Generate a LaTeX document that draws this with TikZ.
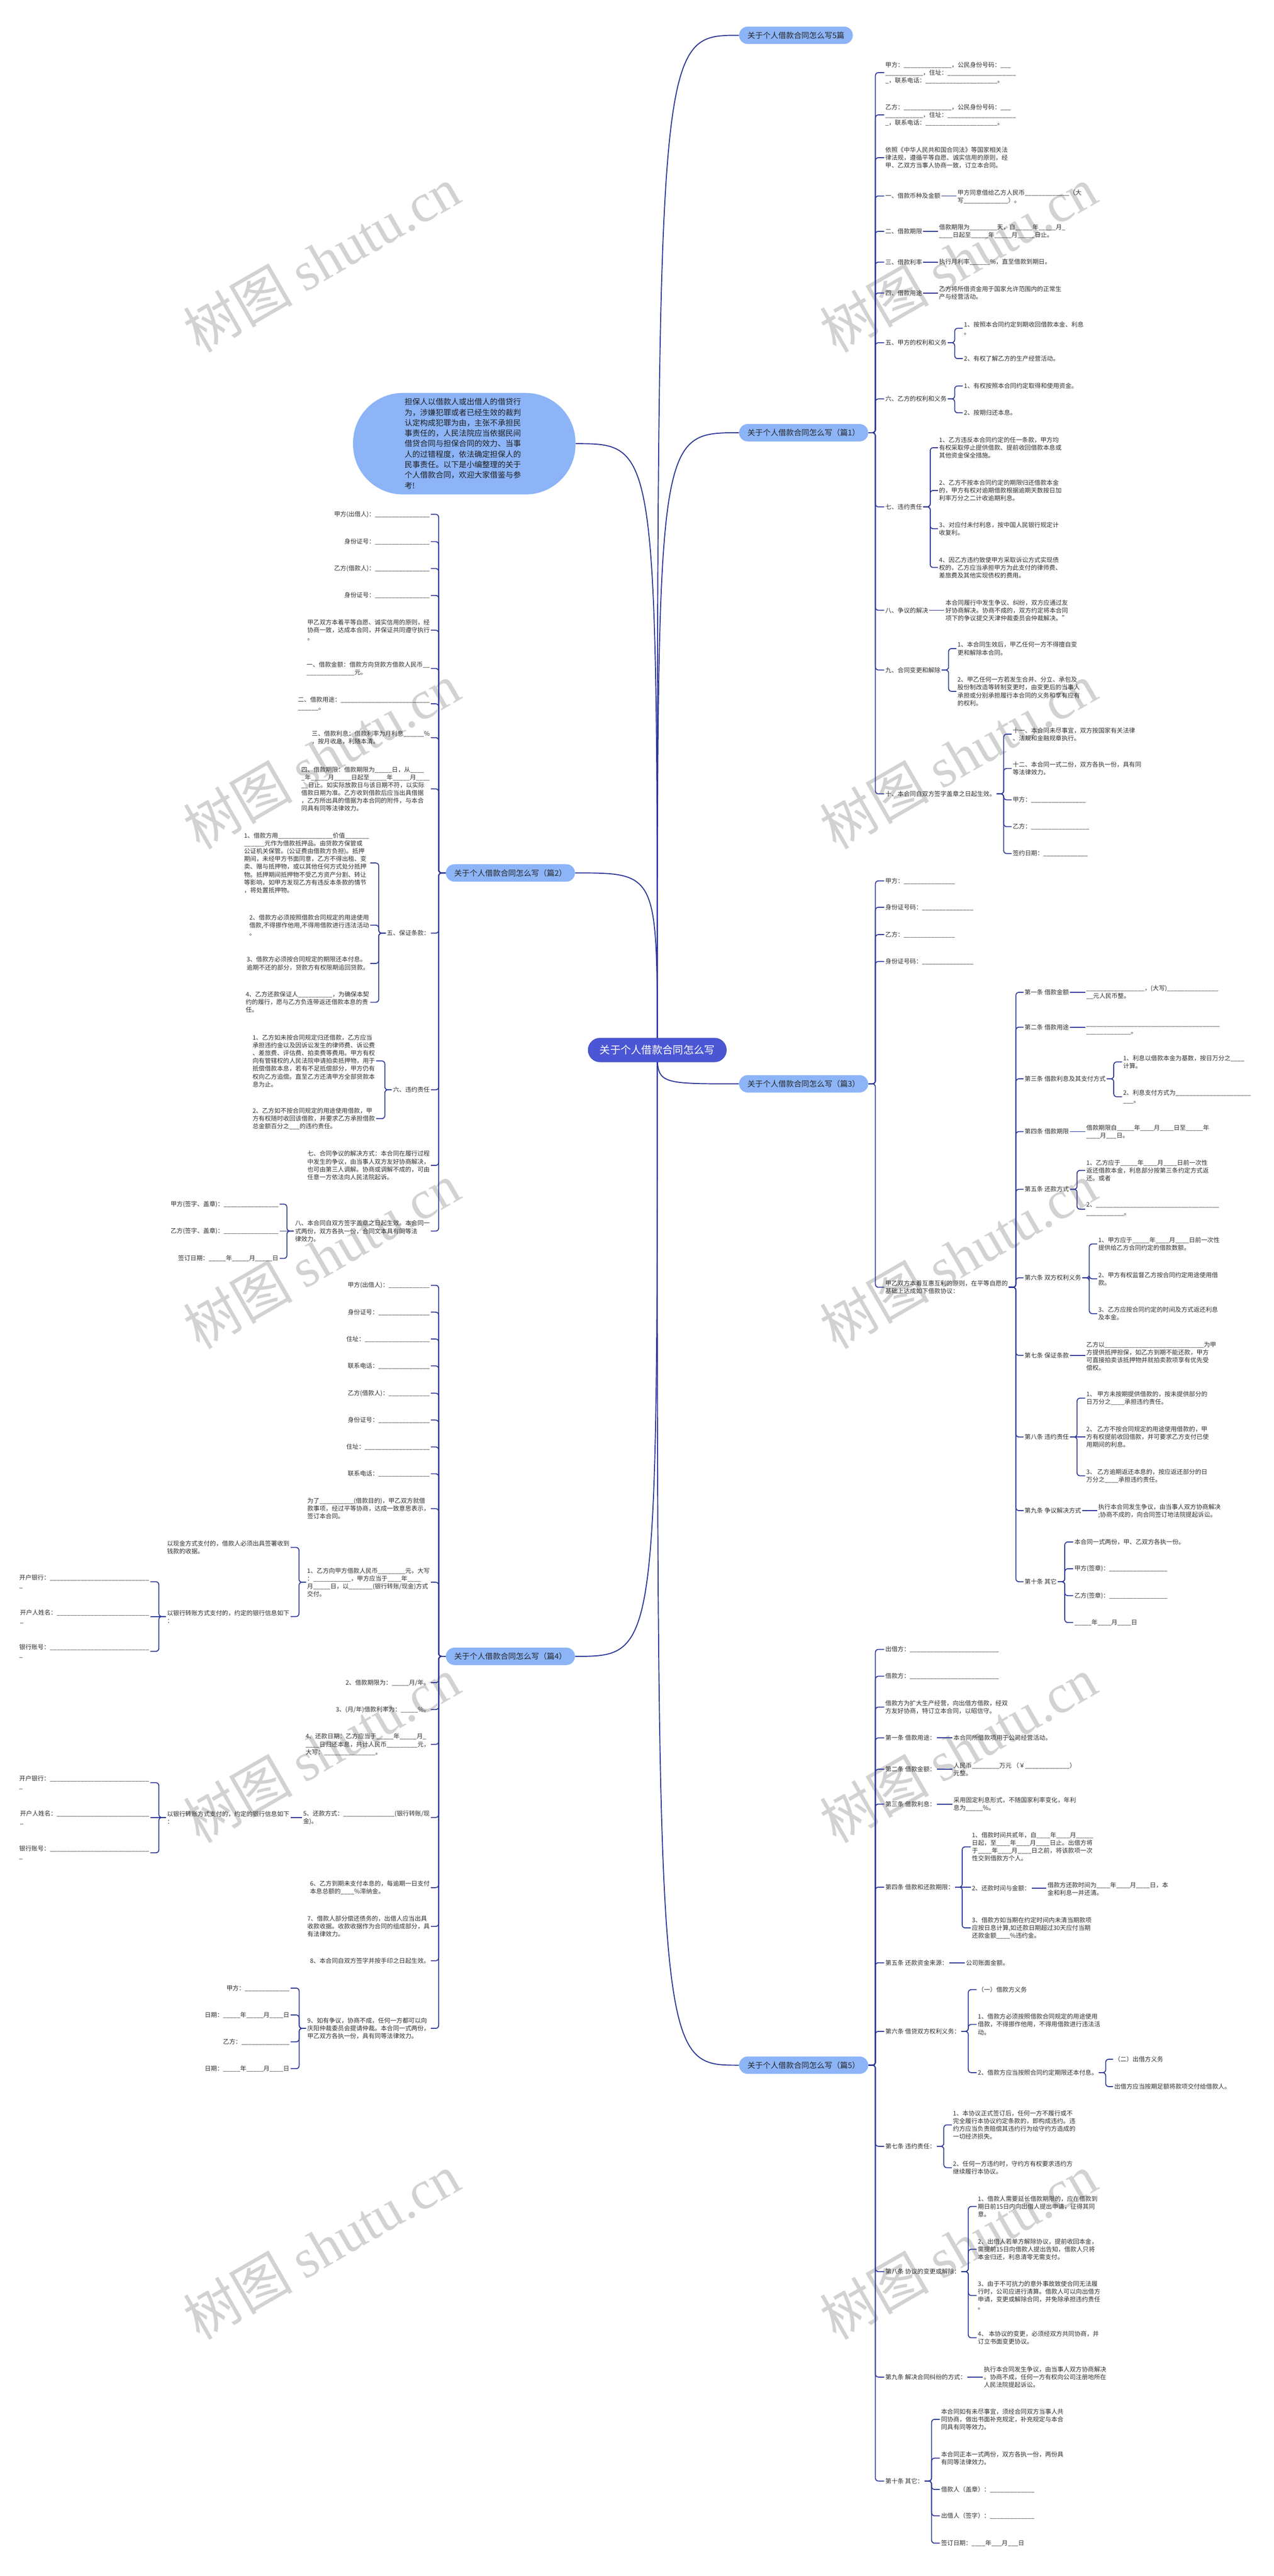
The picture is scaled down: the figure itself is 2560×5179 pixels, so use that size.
\documentclass[tikz,border=0pt]{standalone}
\usepackage{fontspec}
\setmainfont{Noto Sans CJK SC}
\newfontfamily\wmserif{Liberation Serif}
\usetikzlibrary{backgrounds}

\definecolor{linkblue}{RGB}{43,53,150}
\definecolor{rootblue}{RGB}{74,86,212}
\definecolor{branchblue}{RGB}{140,180,247}

\ExplSyntaxOn
\cs_new:Npn \ublank #1 { \prg_replicate:nn {#1} { \textunderscore } }
\ExplSyntaxOff

\tikzset{every picture/.style={line width=0.75pt}}
\tikzset{
  rtxt/.style={anchor=west, inner sep=2pt, align=left, text=black!82, font=\fontsize{12.3}{15.6}\selectfont},
  ltxt/.style={rtxt, anchor=east},
  branch/.style={fill=branchblue, rounded corners=17.5pt, inner xsep=17pt, inner ysep=0pt, minimum height=35pt, text=black!85, font=\fontsize{15.5}{18}\selectfont},
  rootnode/.style={fill=rootblue, draw=rootblue!85!black, rounded corners=24pt, minimum width=278pt, minimum height=48pt, text=white, font=\fontsize{21}{24}\selectfont},
  intro/.style={fill=branchblue, rounded corners=100pt, minimum width=447pt, minimum height=204pt, text width=240pt, inner xsep=0pt, align=left, text=black!88, font=\fontsize{15.6}{21}\selectfont},
  link/.style={draw=linkblue, line width=1.8pt, rounded corners=6pt},
  mainlink/.style={draw=linkblue, line width=2pt},
  wmark/.style={rotate=30, text=black!22, text opacity=0.8, font=\fontsize{110}{110}\selectfont}
}

% connectors: right / left bracket, straight, root curves
\newcommand\rlink[2]{\draw[link] (#1.east) -- ++(14,0) |- (#2.west);}
\newcommand\llink[2]{\draw[link] (#1.west) -- ++(-14,0) |- (#2.east);}
\newcommand\rslink[2]{\draw[link] (#1.east) -- (#1.east -| #2.west);}
\newcommand\lslink[2]{\draw[link] (#1.west) -- (#1.west -| #2.east);}
\newcommand\rmain[1]{\draw[mainlink] (root.center) .. controls (root.center |- #1.west) .. (#1.west);}
\newcommand\lmain[1]{\draw[mainlink] (root.center) .. controls (root.center |- #1.east) .. (#1.east);}

\begin{document}
\begin{tikzpicture}[x=1pt,y=1pt,yscale=-1]
\useasboundingbox (0,0) rectangle (2560,5179);

% Root and branches
\node[rootnode] (root) at (1321,2111) {关于个人借款合同怎么写};
\node[branch, anchor=west] (s0) at (1485,71) {关于个人借款合同怎么写5篇};
\node[branch, anchor=west] (s1) at (1485,870) {关于个人借款合同怎么写（篇1）};
\node[branch, anchor=west] (s3) at (1485,2179) {关于个人借款合同怎么写（篇3）};
\node[branch, anchor=west] (s5) at (1485,4152) {关于个人借款合同怎么写（篇5）};
\node[branch, anchor=east] (s2) at (1156,1755) {关于个人借款合同怎么写（篇2）};
\node[branch, anchor=east] (s4) at (1156,3330) {关于个人借款合同怎么写（篇4）};
\node[intro, anchor=east] (intro) at (1157,892) {担保人以借款人或出借人的借贷行\\为，涉嫌犯罪或者已经生效的裁判\\认定构成犯罪为由，主张不承担民\\事责任的，人民法院应当依据民间\\借贷合同与担保合同的效力、当事\\人的过错程度，依法确定担保人的\\民事责任。以下是小编整理的关于\\个人借款合同，欢迎大家借鉴与参\\考!};

% Pian 1
\node[rtxt] (a1) at (1777,146) {甲方：\ublank{14}，公民身份号码：\ublank{3}\\\ublank{11}，住址：\ublank{20}\\\ublank{1}，联系电话：\ublank{21}。};
\node[rtxt] (a2) at (1777,231) {乙方：\ublank{14}，公民身份号码：\ublank{3}\\\ublank{11}，住址：\ublank{20}\\\ublank{1}，联系电话：\ublank{21}。};
\node[rtxt] (a3) at (1777,317) {依照《中华人民共和国合同法》等国家相关法\\律法规，遵循平等自愿、诚实信用的原则，经\\甲、乙双方当事人协商一致，订立本合同。};
\node[rtxt] (a4) at (1777,394) {一、借款币种及金额};
\node[rtxt] (a4a) at (1922,395) {甲方同意借给乙方人民币\ublank{13}（大\\写\ublank{13}）。};
\node[rtxt] (a5) at (1777,465) {二、借款期限};
\node[rtxt] (a5a) at (1885,465) {借款期限为\ublank{8}天，自\ublank{5}年\ublank{5}月\ublank{1}\\\ublank{4}日起至\ublank{5}年\ublank{5}月\ublank{5}日止。};
\node[rtxt] (a6) at (1777,527) {三、借款利率};
\node[rtxt] (a6a) at (1885,527) {执行月利率\ublank{6}\%，直至借款到期日。};
\node[rtxt] (a7) at (1777,589) {四、借款用途};
\node[rtxt] (a7a) at (1885,589) {乙方将所借资金用于国家允许范围内的正常生\\产与经营活动。};
\node[rtxt] (a8) at (1777,689) {五、甲方的权利和义务};
\node[rtxt] (a8a) at (1935,660) {1、按照本合同约定到期收回借款本金、利息\\。};
\node[rtxt] (a8b) at (1935,721) {2、有权了解乙方的生产经营活动。};
\node[rtxt] (a9) at (1777,802) {六、乙方的权利和义务};
\node[rtxt] (a9a) at (1935,776) {1、有权按照本合同约定取得和使用资金。};
\node[rtxt] (a9b) at (1935,830) {2、按期归还本息。};
\node[rtxt] (a10) at (1777,1019) {七、违约责任};
\node[rtxt] (a10a) at (1885,900) {1、乙方违反本合同约定的任一条款，甲方均\\有权采取停止提供借款、提前收回借款本息或\\其他资金保全措施。};
\node[rtxt] (a10b) at (1885,986) {2、乙方不按本合同约定的期限归还借款本金\\的，甲方有权对逾期借款根据逾期天数按日加\\利率万分之二计收逾期利息。};
\node[rtxt] (a10c) at (1885,1063) {3、对应付未付利息，按中国人民银行规定计\\收复利。};
\node[rtxt] (a10d) at (1885,1141) {4、因乙方违约致使甲方采取诉讼方式实现债\\权的，乙方应当承担甲方为此支付的律师费、\\差旅费及其他实现债权的费用。};
\node[rtxt] (a11) at (1777,1227) {八、争议的解决};
\node[rtxt] (a11a) at (1898,1227) {本合同履行中发生争议、纠纷，双方应通过友\\好协商解决。协商不成的，双方约定将本合同\\项下的争议提交天津仲裁委员会仲裁解决。”};
\node[rtxt] (a12) at (1777,1347) {九、合同变更和解除};
\node[rtxt] (a12a) at (1922,1304) {1、本合同生效后，甲乙任何一方不得擅自变\\更和解除本合同。};
\node[rtxt] (a12b) at (1922,1390) {2、甲乙任何一方若发生合并、分立、承包及\\股份制改造等转制变更时，由变更后的当事人\\承担或分别承担履行本合同的义务和享有应有\\的权利。};
\node[rtxt] (a13) at (1777,1596) {十、本合同自双方签字盖章之日起生效。};
\node[rtxt] (a13a) at (2033,1476) {十一、本合同未尽事宜，双方按国家有关法律\\、法规和金融规章执行。};
\node[rtxt] (a13b) at (2033,1545) {十二、本合同一式二份，双方各执一份，具有同\\等法律效力。};
\node[rtxt] (a13c) at (2033,1608) {甲方：\ublank{16}};
\node[rtxt] (a13d) at (2033,1662) {乙方：\ublank{17}};
\node[rtxt] (a13e) at (2033,1716) {签约日期：\ublank{13}};

% Pian 3
\node[rtxt] (b1) at (1777,1771) {甲方：\ublank{15}};
\node[rtxt] (b2) at (1777,1824) {身份证号码：\ublank{15}};
\node[rtxt] (b3) at (1777,1879) {乙方：\ublank{15}};
\node[rtxt] (b4) at (1777,1933) {身份证号码：\ublank{15}};
\node[rtxt] (b5) at (1777,2588) {甲乙双方本着互惠互利的原则，在平等自愿的\\基础上达成如下借款协议：};
\node[rtxt] (b6) at (2057,1995) {第一条 借款金额};
\node[rtxt] (b6a) at (2181,1995) {\ublank{17}，(大写)\ublank{15}\\\ublank{2}元人民币整。};
\node[rtxt] (b7) at (2057,2065) {第二条 借款用途};
\node[rtxt] (b7a) at (2181,2071) {\ublank{39}\\\ublank{13}。};
\node[rtxt] (b8) at (2057,2169) {第三条 借款利息及其支付方式};
\node[rtxt] (b8a) at (2255,2135) {1、利息以借款本金为基数，按日万分之\ublank{4}\\计算。};
\node[rtxt] (b8b) at (2255,2205) {2、利息支付方式为\ublank{22}\\\ublank{3}。};
\node[rtxt] (b9) at (2057,2275) {第四条 借款期限};
\node[rtxt] (b9a) at (2181,2275) {借款期限自\ublank{5}年\ublank{4}月\ublank{4}日至\ublank{5}年\\\ublank{4}月\ublank{3}日。};
\node[rtxt] (b10) at (2057,2391) {第五条 还款方式};
\node[rtxt] (b10a) at (2181,2353) {1、乙方应于\ublank{5}年\ublank{4}月\ublank{4}日前一次性\\返还借款本金，利息部分按第三条约定方式返\\还。或者};
\node[rtxt] (b10b) at (2181,2431) {2、\ublank{36}\\\ublank{11}。};
\node[rtxt] (b11) at (2057,2569) {第六条 双方权利义务};
\node[rtxt] (b11a) at (2205,2501) {1、甲方应于\ublank{5}年\ublank{4}月\ublank{4}日前一次性\\提供给乙方合同约定的借款数额。};
\node[rtxt] (b11b) at (2205,2571) {2、甲方有权监督乙方按合同约定用途使用借\\款。};
\node[rtxt] (b11c) at (2205,2641) {3、乙方应按合同约定的时间及方式返还利息\\及本金。};
\node[rtxt] (b12) at (2057,2725) {第七条 保证条款};
\node[rtxt] (b12a) at (2181,2727) {乙方以\ublank{29}为甲\\方提供抵押担保，如乙方到期不能还款，甲方\\可直接拍卖该抵押物并就拍卖款项享有优先受\\偿权。};
\node[rtxt] (b13) at (2057,2889) {第八条 违约责任};
\node[rtxt] (b13a) at (2181,2811) {1、 甲方未按期提供借款的，按未提供部分的\\日万分之\ublank{4}承担违约责任。};
\node[rtxt] (b13b) at (2181,2889) {2、 乙方不按合同规定的用途使用借款的，甲\\方有权提前收回借款，并可要求乙方支付已使\\用期间的利息。};
\node[rtxt] (b13c) at (2181,2967) {3、 乙方逾期返还本息的，按应返还部分的日\\万分之\ublank{4}承担违约责任。};
\node[rtxt] (b14) at (2057,3037) {第九条 争议解决方式};
\node[rtxt] (b14a) at (2205,3038) {执行本合同发生争议，由当事人双方协商解决\\;协商不成的，向合同签订地法院提起诉讼。};
\node[rtxt] (b15) at (2057,3180) {第十条 其它};
\node[rtxt] (b15a) at (2157,3100) {本合同一式两份，甲、乙双方各执一份。};
\node[rtxt] (b15b) at (2157,3154) {甲方(签章)：\ublank{17}};
\node[rtxt] (b15c) at (2157,3208) {乙方(签章)：\ublank{17}};
\node[rtxt] (b15d) at (2157,3262) {\ublank{5}年\ublank{4}月\ublank{4}日};

% Pian 5
\node[rtxt] (c1) at (1777,3316) {出借方：\ublank{26}};
\node[rtxt] (c2) at (1777,3370) {借款方：\ublank{26}};
\node[rtxt] (c3) at (1777,3432) {借款方为扩大生产经营，向出借方借款，经双\\方友好协商，特订立本合同，以昭信守。};
\node[rtxt] (c4) at (1777,3494) {第一条 借款用途：};
\node[rtxt] (c4a) at (1914,3494) {本合同所借款项用于公司经营活动。};
\node[rtxt] (c5) at (1777,3557) {第二条 借款金额：};
\node[rtxt] (c5a) at (1914,3557) {人民币\ublank{8}万元 （￥\ublank{13}）\\元整。};
\node[rtxt] (c6) at (1777,3627) {第三条 借款利息：};
\node[rtxt] (c6a) at (1914,3627) {采用固定利息形式，不随国家利率变化，年利\\息为\ublank{5}\%。};
\node[rtxt] (c7) at (1777,3794) {第四条 借款和还款期限：};
\node[rtxt] (c7a) at (1951,3713) {1、借款时间共贰年，自\ublank{4}年\ublank{4}月\ublank{5}\\日起，至\ublank{4}年\ublank{4}月\ublank{4}日止。出借方将\\于\ublank{4}年\ublank{4}月\ublank{4}日之前，将该款项一次\\性交到借款方个人。};
\node[rtxt] (c7b) at (1951,3796) {2、还款时间与金额：};
\node[rtxt] (c7b1) at (2103,3798) {借款方还款时间为\ublank{4}年\ublank{4}月\ublank{4}日，本\\金和利息一并还清。};
\node[rtxt] (c7c) at (1951,3876) {3、借款方如当期在约定时间内未清当期款项\\应按日息计算,如还款日期超过30天应付当期\\还款金额\ublank{4}\%违约金。};
\node[rtxt] (c8) at (1777,3946) {第五条 还款资金来源：};
\node[rtxt] (c8a) at (1939,3946) {公司账面金额。};
\node[rtxt] (c9) at (1777,4084) {第六条 借贷双方权利义务：};
\node[rtxt] (c9a) at (1963,4000) {（一）借款方义务};
\node[rtxt] (c9b) at (1963,4070) {1、借款方必须按照借款合同规定的用途使用\\借款，不得挪作他用，不得用借款进行违法活\\动。};
\node[rtxt] (c9c) at (1963,4167) {2、借款方应当按照合同约定期限还本付息。};
\node[rtxt] (c9c1) at (2237,4140) {（二）出借方义务};
\node[rtxt] (c9c2) at (2237,4195) {出借方应当按期足额将款项交付给借款人。};
\node[rtxt] (c10) at (1777,4315) {第七条 违约责任：};
\node[rtxt] (c10a) at (1913,4272) {1、本协议正式签订后，任何一方不履行或不\\完全履行本协议约定条款的，即构成违约。违\\约方应当负责赔偿其违约行为给守约方造成的\\一切经济损失。};
\node[rtxt] (c10b) at (1913,4358) {2、任何一方违约时，守约方有权要求违约方\\继续履行本协议。};
\node[rtxt] (c11) at (1777,4567) {第八条 协议的变更或解除：};
\node[rtxt] (c11a) at (1963,4436) {1、借款人需要延长借款期限的，应在借款到\\期日前15日内向出借人提出申请，征得其同\\意。};
\node[rtxt] (c11b) at (1963,4522) {2、出借人若单方解除协议，提前收回本金，\\需提前15日向借款人提出告知，借款人只将\\本金归还，利息清零无需支付。};
\node[rtxt] (c11c) at (1963,4615) {3、由于不可抗力的意外事故致使合同无法履\\行时，公司应进行清算。借款人可以向出借方\\申请，变更或解除合同，并免除承担违约责任\\。};
\node[rtxt] (c11d) at (1963,4700) {4、 本协议的变更，必须经双方共同协商，并\\订立书面变更协议。};
\node[rtxt] (c12) at (1777,4779) {第九条 解决合同纠纷的方式：};
\node[rtxt] (c12a) at (1975,4779) {执行本合同发生争议，由当事人双方协商解决\\。协商不成，任何一方有权向公司注册地所在\\人民法院提起诉讼。};
\node[rtxt] (c13) at (1777,4988) {第十条 其它：};
\node[rtxt] (c13a) at (1889,4864) {本合同如有未尽事宜，须经合同双方当事人共\\同协商，做出书面补充规定，补充规定与本合\\同具有同等效力。};
\node[rtxt] (c13b) at (1889,4942) {本合同正本一式两份，双方各执一份，两份具\\有同等法律效力。};
\node[rtxt] (c13c) at (1889,5005) {借款人（盖章）：\ublank{13}};
\node[rtxt] (c13d) at (1889,5058) {出借人（签字）：\ublank{13}};
\node[rtxt] (c13e) at (1889,5113) {签订日期：\ublank{4}年\ublank{3}月\ublank{3}日};

% Pian 2
\node[ltxt] (d1) at (866,1034) {甲方(出借人)：\ublank{16}};
\node[ltxt] (d2) at (866,1089) {身份证号：\ublank{16}};
\node[ltxt] (d3) at (866,1143) {乙方(借款人)：\ublank{16}};
\node[ltxt] (d4) at (866,1197) {身份证号：\ublank{16}};
\node[ltxt] (d5) at (866,1267) {甲乙双方本着平等自愿、诚实信用的原则，经\\协商一致，达成本合同，并保证共同遵守执行\\。};
\node[ltxt] (d6) at (866,1344) {一、借款金额：借款方向贷款方借款人民币\ublank{2}\\\ublank{14}元。};
\node[ltxt] (d7) at (866,1415) {二、借款用途：\ublank{26}\\\ublank{6}。};
\node[ltxt] (d8) at (866,1483) {三、借款利息：借款利率为月利息\ublank{6}\%\\，按月收息，利随本清。};
\node[ltxt] (d9) at (866,1586) {四、借款期限：借款期限为\ublank{5}日，从\ublank{4}\\\ublank{1}年\ublank{5}月\ublank{5}日起至\ublank{5}年\ublank{5}月\ublank{4}\\\ublank{2}日止。如实际放款日与该日期不符，以实际\\借款日期为准。乙方收到借款后应当出具借据\\，乙方所出具的借据为本合同的附件，与本合\\同具有同等法律效力。};
\node[ltxt] (d10) at (866,1876) {五、保证条款：};
\node[ltxt] (d10a) at (744,1735) {1、借款方用\ublank{16}价值\ublank{7}\\\ublank{6}元作为借款抵押品。由贷款方保管或\\公证机关保管。(公证费由借款方负担)。抵押\\期间，未经甲方书面同意，乙方不得出租、变\\卖、赠与抵押物，或以其他任何方式处分抵押\\物。抵押期间抵押物不受乙方资产分割、转让\\等影响，如甲方发现乙方有违反本条款的情节\\，将处置抵押物。};
\node[ltxt] (d10b) at (744,1860) {2、借款方必须按照借款合同规定的用途使用\\借款,不得挪作他用,不得用借款进行违法活动\\。};
\node[ltxt] (d10c) at (744,1937) {3、借款方必须按合同规定的期限还本付息。\\逾期不还的部分，贷款方有权限期追回贷款。};
\node[ltxt] (d10d) at (744,2015) {4、乙方还款保证人\ublank{10}，为确保本契\\约的履行，愿与乙方负连带返还借款本息的责\\任。};
\node[ltxt] (d11) at (866,2191) {六、违约责任};
\node[ltxt] (d11a) at (756,2133) {1、乙方如未按合同规定归还借款，乙方应当\\承担违约金以及因诉讼发生的律师费、诉讼费\\、差旅费、评估费、拍卖费等费用。甲方有权\\向有管辖权的人民法院申请拍卖抵押物，用于\\抵偿借款本息，若有不足抵偿部分，甲方仍有\\权向乙方追偿。直至乙方还清甲方全部贷款本\\息为止。};
\node[ltxt] (d11b) at (756,2249) {2、乙方如不按合同规定的用途使用借款，甲\\方有权随时收回该借款，并要求乙方承担借款\\总金额百分之\ublank{3}的违约责任。};
\node[ltxt] (d12) at (866,2343) {七、合同争议的解决方式：本合同在履行过程\\中发生的争议，由当事人双方友好协商解决，\\也可由第三人调解。协商或调解不成的，可由\\任意一方依法向人民法院起诉。};
\node[ltxt] (d13) at (866,2475) {八、本合同自双方签字盖章之日起生效。本合同一\\式两份，双方各执一份，合同文本具有同等法\\律效力。};
\node[ltxt] (d13a) at (562,2421) {甲方(签字、盖章)：\ublank{16}};
\node[ltxt] (d13b) at (562,2475) {乙方(签字、盖章)：\ublank{16}};
\node[ltxt] (d13c) at (562,2530) {签订日期：\ublank{5}年\ublank{5}月\ublank{5}日};

% Pian 4
\node[ltxt] (f1) at (866,2584) {甲方(出借人)：\ublank{12}};
\node[ltxt] (f2) at (866,2638) {身份证号：\ublank{15}};
\node[ltxt] (f3) at (866,2692) {住址：\ublank{19}};
\node[ltxt] (f4) at (866,2746) {联系电话：\ublank{15}};
\node[ltxt] (f5) at (866,2801) {乙方(借款人)：\ublank{12}};
\node[ltxt] (f6) at (866,2855) {身份证号：\ublank{15}};
\node[ltxt] (f7) at (866,2909) {住址：\ublank{19}};
\node[ltxt] (f8) at (866,2963) {联系电话：\ublank{15}};
\node[ltxt] (f9) at (866,3033) {为了\ublank{10}(借款目的)，甲乙双方就借\\款事项，经过平等协商，达成一致意思表示，\\签订本合同。};
\node[ltxt] (f10) at (866,3181) {1、乙方向甲方借款人民币\ublank{8}元，大写\\：\ublank{11}，甲方应当于\ublank{4}年\ublank{4}\\月\ublank{5}日，以\ublank{7}(银行转账/现金)方式\\交付。};
\node[ltxt] (f10a) at (584,3111) {以现金方式支付的，借款人必须出具签署收到\\钱款的收据。};
\node[ltxt] (f10b) at (584,3250) {以银行转账方式支付的，约定的银行信息如下\\：};
\node[ltxt] (f10b1) at (302,3180) {开户银行：\ublank{29}\\\ublank{1}};
\node[ltxt] (f10b2) at (302,3250) {开户人姓名：\ublank{27}\\\ublank{1}};
\node[ltxt] (f10b3) at (302,3320) {银行账号：\ublank{29}\\\ublank{1}};
\node[ltxt] (f11) at (866,3383) {2、借款期限为：\ublank{5}月/年。};
\node[ltxt] (f12) at (866,3437) {3、(月/年)借款利率为：\ublank{5}\%。};
\node[ltxt] (f13) at (866,3507) {4、还款日期：乙方应当于\ublank{5}年\ublank{5}月\ublank{1}\\\ublank{4}日归还本息，共计人民币\ublank{9}元，\\大写：\ublank{15}。};
\node[ltxt] (f14) at (866,3654) {5、还款方式：\ublank{15}(银行转账/现\\金)。};
\node[ltxt] (f14a) at (584,3654) {以银行转账方式支付的，约定的银行信息如下\\：};
\node[ltxt] (f14a1) at (302,3584) {开户银行：\ublank{29}\\\ublank{1}};
\node[ltxt] (f14a2) at (302,3654) {开户人姓名：\ublank{27}\\\ublank{1}};
\node[ltxt] (f14a3) at (302,3725) {银行账号：\ublank{29}\\\ublank{1}};
\node[ltxt] (f15) at (866,3795) {6、乙方到期未支付本息的，每逾期一日支付\\本息总额的\ublank{4}\%滞纳金。};
\node[ltxt] (f16) at (866,3873) {7、借款人部分偿还债务的，出借人应当出具\\收款收据。收款收据作为合同的组成部分，具\\有法律效力。};
\node[ltxt] (f17) at (866,3942) {8、本合同自双方签字并按手印之日起生效。};
\node[ltxt] (f18) at (866,4078) {9、如有争议，协商不成，任何一方都可以向\\庆阳仲裁委员会提请仲裁。本合同一式两份，\\甲乙双方各执一份，具有同等法律效力。};
\node[ltxt] (f18a) at (584,3997) {甲方：\ublank{13}};
\node[ltxt] (f18b) at (584,4051) {日期：\ublank{5}年\ublank{5}月\ublank{4}日};
\node[ltxt] (f18c) at (584,4105) {乙方：\ublank{14}};
\node[ltxt] (f18d) at (584,4159) {日期：\ublank{5}年\ublank{5}月\ublank{4}日};

\begin{scope}[on background layer]
% watermark
\foreach \wx in {646,1926}
  \foreach \wy in {521,1520,2525,3518,4516}
    \node[wmark] at (\wx,\wy) {树图 {\wmserif shutu.cn}};

% root curves
\rmain{s0} \rmain{s1} \rmain{s3} \rmain{s5}
\lmain{intro} \lmain{s2} \lmain{s4}

% right brackets
\foreach \c in {a1,a2,a3,a4,a5,a6,a7,a8,a9,a10,a11,a12,a13} {\rlink{s1}{\c}}
\rslink{a4}{a4a} \rslink{a5}{a5a} \rslink{a6}{a6a} \rslink{a7}{a7a} \rslink{a11}{a11a}
\rlink{a8}{a8a} \rlink{a8}{a8b} \rlink{a9}{a9a} \rlink{a9}{a9b}
\foreach \c in {a10a,a10b,a10c,a10d} {\rlink{a10}{\c}}
\rlink{a12}{a12a} \rlink{a12}{a12b}
\foreach \c in {a13a,a13b,a13c,a13d,a13e} {\rlink{a13}{\c}}

\foreach \c in {b1,b2,b3,b4,b5} {\rlink{s3}{\c}}
\foreach \c in {b6,b7,b8,b9,b10,b11,b12,b13,b14,b15} {\rlink{b5}{\c}}
\rslink{b6}{b6a} \rslink{b7}{b7a} \rslink{b9}{b9a} \rslink{b12}{b12a} \rslink{b14}{b14a}
\rlink{b8}{b8a} \rlink{b8}{b8b} \rlink{b10}{b10a} \rlink{b10}{b10b}
\foreach \c in {b11a,b11b,b11c} {\rlink{b11}{\c}}
\rlink{b13}{b13a} \rslink{b13}{b13b} \rlink{b13}{b13c}
\foreach \c in {b15a,b15b,b15c,b15d} {\rlink{b15}{\c}}

\foreach \c in {c1,c2,c3,c4,c5,c6,c7,c8,c9,c10,c11,c12,c13} {\rlink{s5}{\c}}
\rslink{c4}{c4a} \rslink{c5}{c5a} \rslink{c6}{c6a} \rslink{c8}{c8a} \rslink{c12}{c12a}
\rlink{c7}{c7a} \rslink{c7}{c7b} \rlink{c7}{c7c} \rslink{c7b}{c7b1}
\foreach \c in {c9a,c9b,c9c} {\rlink{c9}{\c}}
\rlink{c9c}{c9c1} \rlink{c9c}{c9c2}
\rlink{c10}{c10a} \rlink{c10}{c10b}
\foreach \c in {c11a,c11b,c11c,c11d} {\rlink{c11}{\c}}
\foreach \c in {c13a,c13b,c13c,c13d,c13e} {\rlink{c13}{\c}}

% left brackets
\foreach \c in {d1,d2,d3,d4,d5,d6,d7,d8,d9,d10,d11,d12,d13} {\llink{s2}{\c}}
\foreach \c in {d10a,d10b,d10c,d10d} {\llink{d10}{\c}}
\llink{d11}{d11a} \llink{d11}{d11b}
\llink{d13}{d13a} \lslink{d13}{d13b} \llink{d13}{d13c}

\foreach \c in {f1,f2,f3,f4,f5,f6,f7,f8,f9,f10,f11,f12,f13,f14,f15,f16,f17,f18} {\llink{s4}{\c}}
\llink{f10}{f10a} \llink{f10}{f10b}
\llink{f10b}{f10b1} \lslink{f10b}{f10b2} \llink{f10b}{f10b3}
\lslink{f14}{f14a}
\llink{f14a}{f14a1} \lslink{f14a}{f14a2} \llink{f14a}{f14a3}
\foreach \c in {f18a,f18b,f18c,f18d} {\llink{f18}{\c}}
\end{scope}

\end{tikzpicture}
\end{document}
